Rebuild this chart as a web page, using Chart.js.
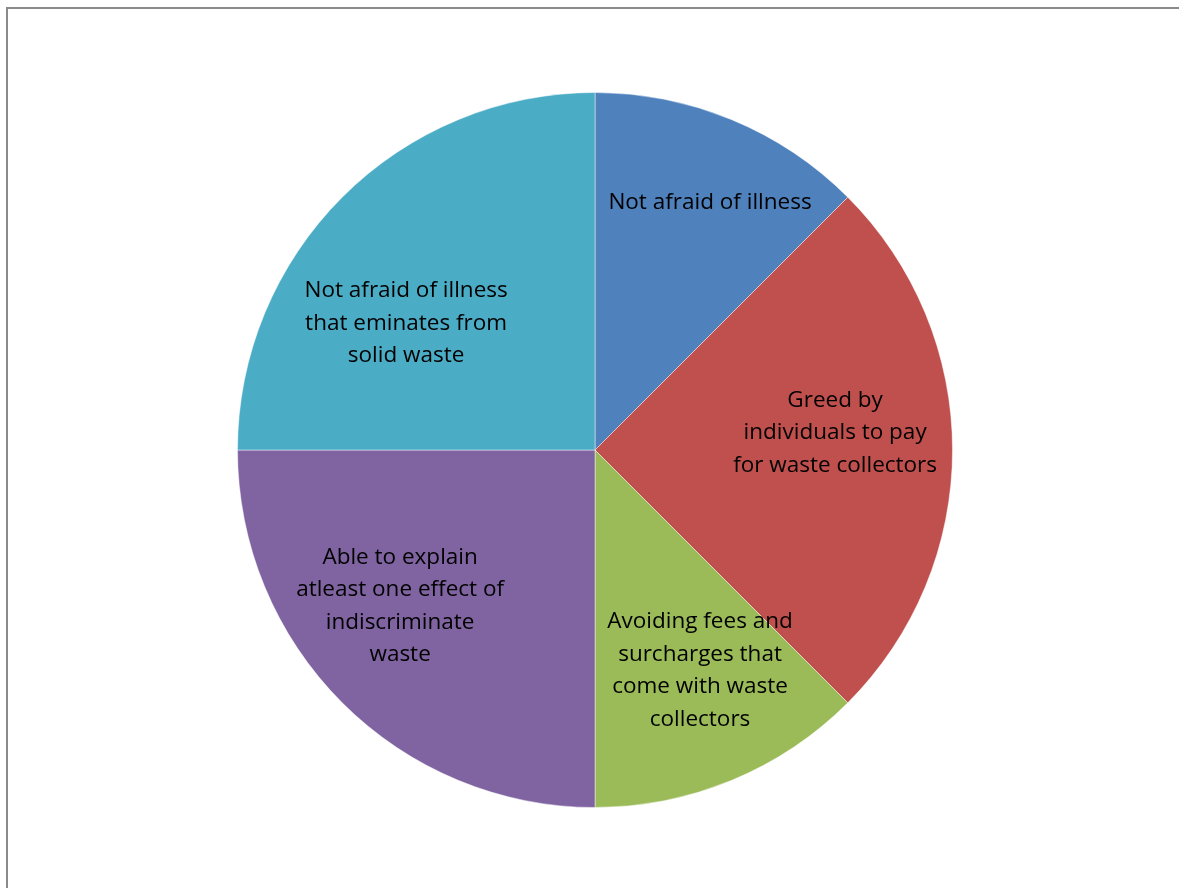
<!DOCTYPE html>
<html>
<head>
<meta charset="utf-8">
<script src="https://cdn.jsdelivr.net/npm/chart.js@4"></script>
<style>
  html, body { margin: 0; padding: 0; background: #fff; overflow: hidden; }
  #frame { position: absolute; left: 6px; top: 7px; width: 1300px; height: 1000px; border: 2px solid #8a8a8a; }
  #wrap { position: absolute; left: 0; top: 0; width: 1179px; height: 888px; }
</style>
</head>
<body>
<div id="frame"></div>
<div id="wrap"><canvas id="chart"></canvas></div>
<script>
const categories = [
  ['Not afraid of illness'],
  ['Greed by', 'individuals to pay', 'for waste collectors'],
  ['Avoiding fees and', 'surcharges that', 'come with waste', 'collectors'],
  ['Able to explain', 'atleast one effect of', 'indiscriminate', 'waste'],
  ['Not afraid of illness', 'that eminates from', 'solid waste']
];
const values = [12.5, 25, 12.5, 25, 25];
const colors = ['#4F81BD', '#C0504D', '#9BBB59', '#8064A2', '#4BACC6'];

// nudges for each label, relative to the slice centroid
const labelNudge = [[22, -23], [-3, -17], [12, -4], [-23, -16], [-17, 45]];

const sliceLabels = {
  id: 'sliceLabels',
  afterDatasetsDraw(chart) {
    const ctx = chart.ctx;
    const meta = chart.getDatasetMeta(0);
    ctx.save();
    ctx.font = '22.5px "Open Sans"';
    ctx.fillStyle = '#000';
    ctx.textAlign = 'center';
    ctx.textBaseline = 'middle';
    meta.data.forEach((arc, i) => {
      const p = arc.getProps(['x', 'y', 'startAngle', 'endAngle', 'outerRadius'], true);
      const mid = (p.startAngle + p.endAngle) / 2;
      const r = p.outerRadius * 0.68;
      const cx = p.x + Math.cos(mid) * r + labelNudge[i][0];
      const cy = p.y + Math.sin(mid) * r + labelNudge[i][1];
      const lines = categories[i];
      const lh = 32.5;
      lines.forEach((t, j) => {
        ctx.fillText(t, cx, cy + (j - (lines.length - 1) / 2) * lh);
      });
    });
    ctx.restore();
  }
};

new Chart(document.getElementById('chart'), {
  type: 'pie',
  data: {
    labels: categories.map(c => c.join(' ')),
    datasets: [{
      data: values,
      backgroundColor: colors,
      borderColor: 'rgba(255,255,255,0.45)',
      borderWidth: 1
    }]
  },
  options: {
    responsive: true,
    maintainAspectRatio: false,
    animation: false,
    layout: { padding: { left: 237, right: 226, top: 92, bottom: 80 } },
    plugins: {
      legend: { display: false },
      tooltip: { enabled: false }
    }
  },
  plugins: [sliceLabels]
});
</script>
</body>
</html>
